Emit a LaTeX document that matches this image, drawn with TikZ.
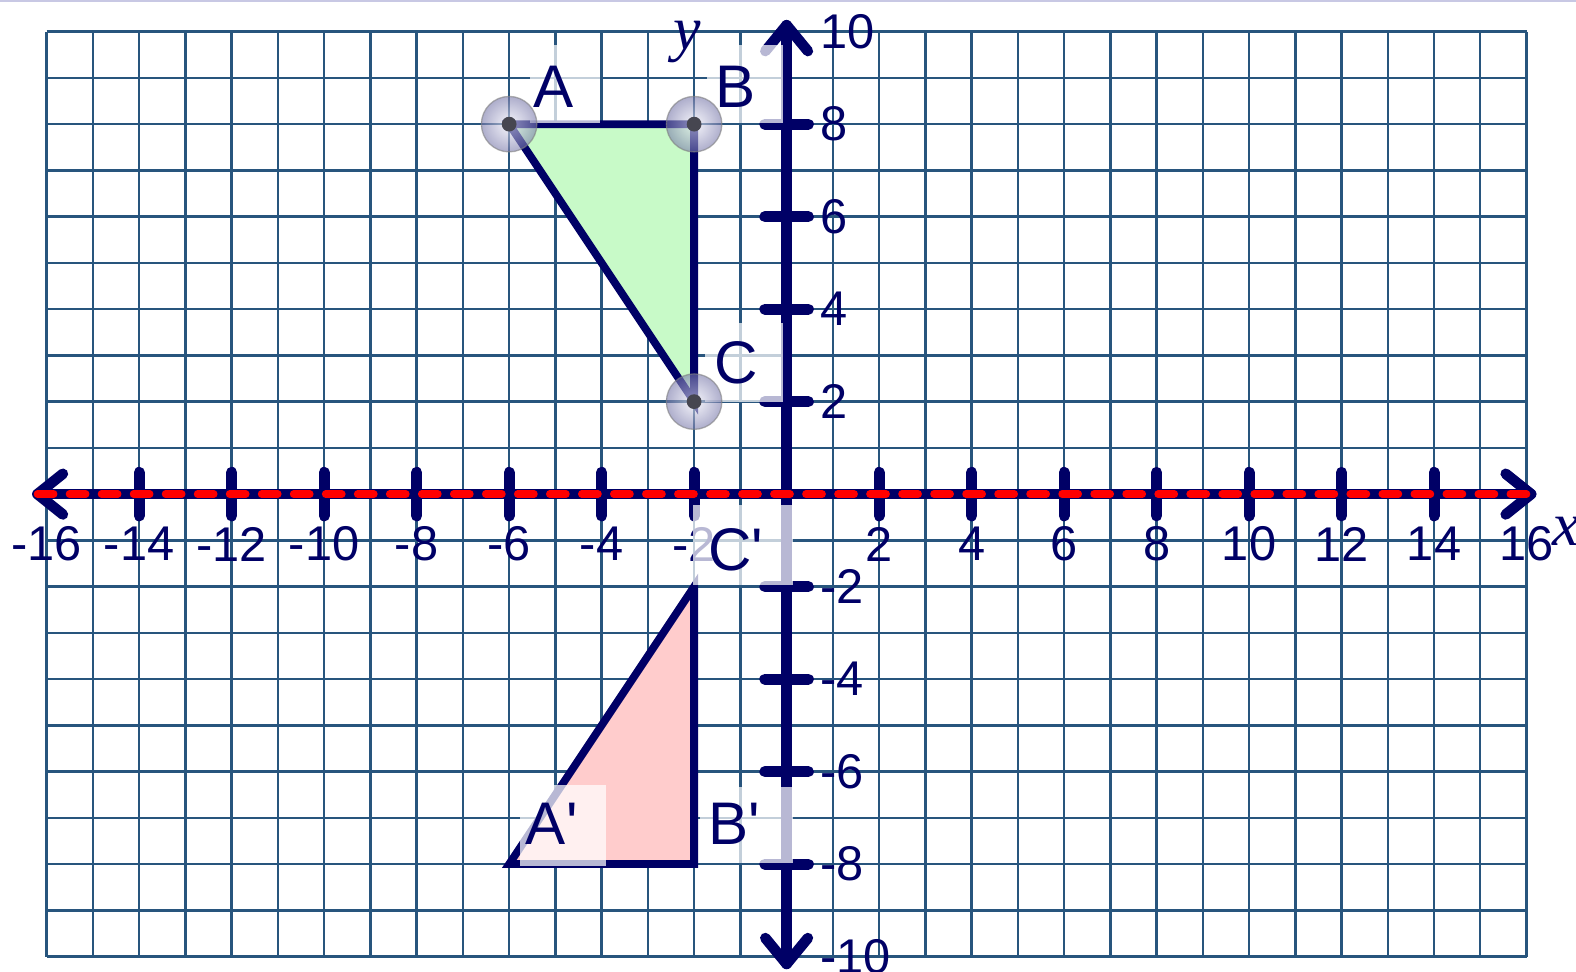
\documentclass[tikz,border=0pt]{standalone}
\usepackage{fontspec}
\usetikzlibrary{calc}
\setmainfont{Liberation Sans}
\newfontfamily\axfont{Liberation Serif}
\definecolor{gridblue}{RGB}{40,85,125}
\definecolor{navy}{RGB}{0,0,102}
\definecolor{greenfill}{RGB}{200,250,200}
\definecolor{pinkfill}{RGB}{255,204,204}
\definecolor{topline}{RGB}{200,200,228}
\definecolor{ballcol}{RGB}{120,120,170}
\definecolor{dotcol}{RGB}{70,70,80}
\tikzset{
  gridline/.style={line width=1.5pt, color=gridblue},
  axisline/.style={line width=6.5pt, color=navy, line cap=round, line join=round},
  tickmark/.style={line width=6.8pt, color=navy, line cap=round},
  reflline/.style={line width=4.6pt, color=red, line cap=round, dash pattern=on 10pt off 9.7pt},
  edgeline/.style={line width=4.8pt, color=navy, line join=miter},
  ticklbl/.style={inner sep=0pt, text=navy, font=\fontsize{30}{36}\selectfont},
  ptlbl/.style={inner sep=0pt, text=navy, font=\fontsize{37}{44}\selectfont},
  axlbl/.style={inner sep=0pt, text=navy, font=\axfont\itshape\fontsize{38}{44}\selectfont},
  lblbox/.style={fill=white, fill opacity=0.72},
  ballshade/.style={inner color={rgb,255:red,240;green,240;blue,250}, outer color=ballcol, opacity=0.6},
  ballrim/.style={draw=gray, line width=0.8pt, opacity=0.6},
  dotfill/.style={fill=dotcol}
}
\begin{document}
\begin{tikzpicture}[x=1cm,y=1cm]
\useasboundingbox (-17.01,-10.33) rectangle (17.07,10.685);
\fill[white] (-17.01,-10.33) rectangle (17.07,10.685);
\draw[color=topline, line width=1.2pt] (-17.01,10.66) -- (17.07,10.66);
% grid
\draw[gridline] (-16,-10) grid (16,10);
% points
\coordinate (A) at (-6,8);
\coordinate (B) at (-2,8);
\coordinate (C) at (-2,2);
\coordinate (Ap) at (-6,-8);
\coordinate (Bp) at (-2,-8);
\coordinate (Cp) at (-2,-2);
% triangles
\fill[greenfill] (A) -- (B) -- (C) -- cycle;
\fill[pinkfill] (Ap) -- (Bp) -- (Cp) -- cycle;
\draw[edgeline] (A) -- (B) -- (C) -- cycle;
\draw[edgeline] (Ap) -- (Bp) -- (Cp) -- cycle;
% axes
\coordinate (xl) at (-16.2,0);
\coordinate (xr) at (16.1,0);
\coordinate (yb) at (0,-10.16);
\coordinate (yt) at (0,10.14);
\draw[axisline] (xl) -- (xr);
\draw[axisline] (yb) -- (yt);
\draw[axisline] ($(xr)+(-0.55,0.44)$) -- (xr) -- ($(xr)+(-0.55,-0.44)$);
\draw[axisline] ($(xl)+(0.55,0.44)$) -- (xl) -- ($(xl)+(0.55,-0.44)$);
\draw[axisline] ($(yt)+(-0.46,-0.56)$) -- (yt) -- ($(yt)+(0.46,-0.56)$);
\draw[axisline] ($(yb)+(-0.46,0.56)$) -- (yb) -- ($(yb)+(0.46,0.56)$);
\foreach \x in {-14,-12,-10,-8,-6,-4,-2,2,4,6,8,10,12,14}
  \draw[tickmark] (\x,-0.47) -- (\x,0.47);
\foreach \y in {-8,-6,-4,-2,2,4,6,8}
  \draw[tickmark] (-0.47,\y) -- (0.47,\y);
% reflection line
\draw[reflline] (xl) -- (xr);
% tick labels
\foreach \x [count=\i] in {-16,-14,-12,-10,-8,-6,-4,-2,2,4,6,8,10,12,14,16}
  \node[ticklbl] (xt\i) at (\x,-1.08) {\x};
\foreach \y [count=\i] in {-10,-8,-6,-4,-2,2,4,6,8,10}
  \node[ticklbl, anchor=west] (ytl\i) at (0.72,\y) {\y};
\node[axlbl] (ylab) at (-2.15,9.77) {y};
\node[axlbl, anchor=west] (xlab) at (16.55,-0.8) {x};
% label boxes
\fill[lblbox] (-5.55,8.03) rectangle (-4.04,9.71);
\fill[lblbox] (-1.72,8.03) rectangle (-0.08,9.71);
\fill[lblbox] (-1.77,2.0) rectangle (-0.08,3.69);
\fill[lblbox] (-5.77,-8.04) rectangle (-3.9,-6.29);
\fill[lblbox] (-1.88,-7.97) rectangle (0.14,-6.33);
\fill[lblbox] (-2.03,-1.97) rectangle (0.14,-0.23);
% point labels
\node[ptlbl] (lA) at (-5.05,8.81) {A};
\node[ptlbl] (lB) at (-1.10,8.81) {B};
\node[ptlbl] (lC) at (-1.10,2.84) {C};
\node[ptlbl] (lAp) at (-5.08,-7.13) {A\textquotesingle};
\node[ptlbl] (lBp) at (-1.14,-7.13) {B\textquotesingle};
\node[ptlbl] (lCp) at (-1.10,-1.20) {C\textquotesingle};
% point balls
\foreach \p in {A,B,C} {
  \shade[ballshade] (\p) circle (0.6);
  \draw[ballrim] (\p) circle (0.6);
  \fill[dotfill] (\p) circle (0.16);
}
\end{tikzpicture}
\end{document}
